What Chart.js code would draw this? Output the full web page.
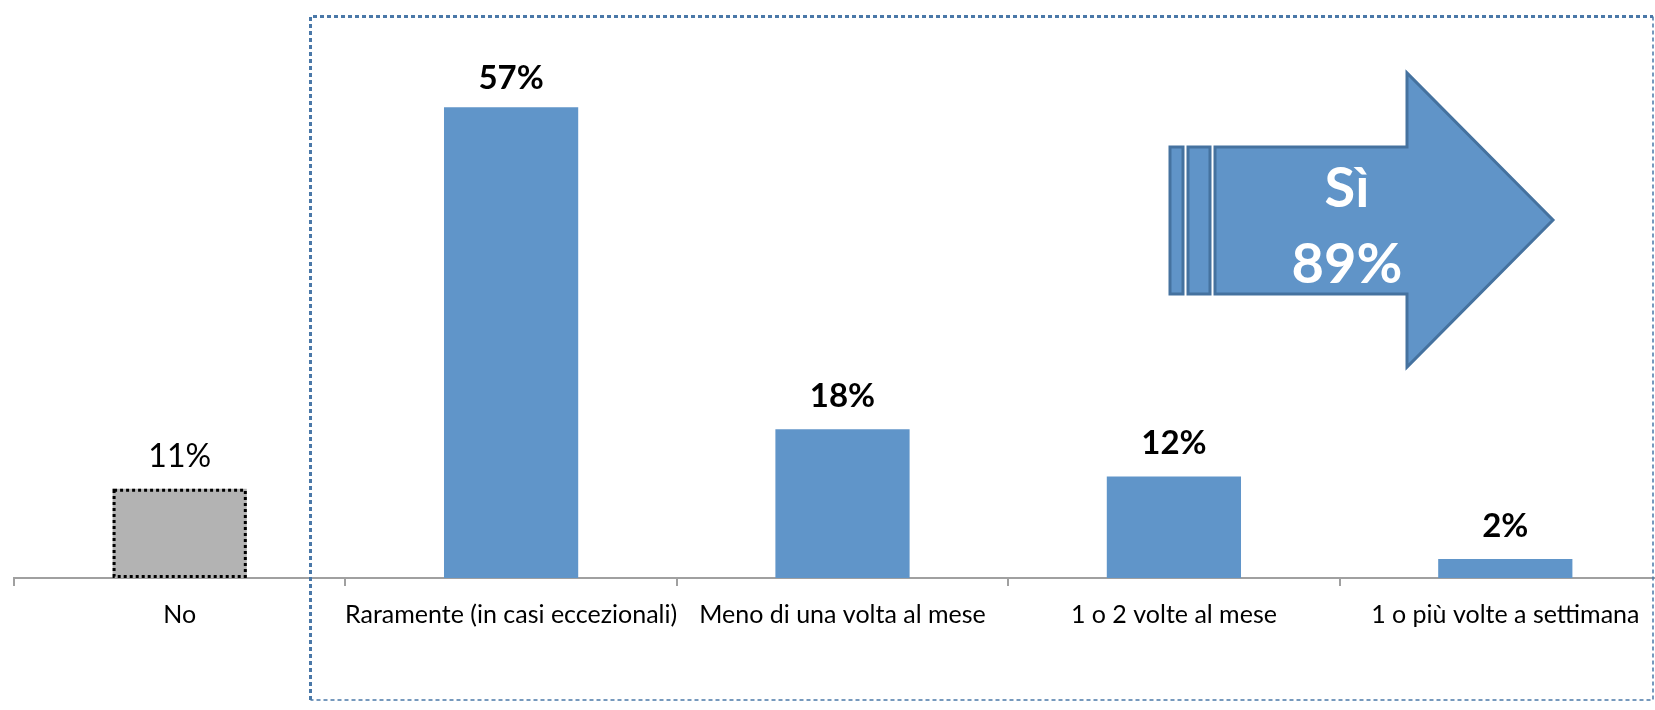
<!DOCTYPE html>
<html>
<head>
<meta charset="utf-8">
<script src="https://cdn.jsdelivr.net/npm/chart.js@4"></script>
<style>
    html, body { margin: 0; padding: 0; overflow: hidden; background: #fff; }
    #wrap { position: absolute; left: 0; top: 0; width: 1690px; height: 710px; }
</style>
</head>
<body>
<div id="wrap"><canvas id="chart"></canvas></div>
<script>
// Chart data
const categories = ['No', 'Raramente (in casi eccezionali)', 'Meno di una volta al mese', '1 o 2 volte al mese', '1 o più volte a settimana'];
const values = [10.8, 57, 18, 12.3, 2.3];
const valueLabels = ['11%', '57%', '18%', '12%', '2%'];
const boldLabels = [false, true, true, true, true];
const summaryLabel = 'Sì';
const summaryValue = '89%';

// Colors
const BLUE = '#6095C9';
const GRAY = '#B3B3B3';
const FONT = 'Lato, "Open Sans", sans-serif';

// Value labels above bars + dotted border on the "No" bar
const barDecor = {
    id: 'barDecor',
    afterDatasetsDraw(chart) {
        const ctx = chart.ctx;
        const meta = chart.getDatasetMeta(0);
        meta.data.forEach((bar, i) => {
            const p = bar.getProps(['x', 'y', 'base', 'width'], true);
            if (i === 0) {
                ctx.save();
                ctx.strokeStyle = '#000';
                ctx.lineWidth = 3;
                ctx.setLineDash([3, 3]);
                ctx.strokeRect(p.x - p.width / 2 + 1.5, p.y + 1.5, p.width - 3, p.base - p.y - 3);
                ctx.restore();
            }
            ctx.save();
            ctx.fillStyle = '#000';
            ctx.textAlign = 'center';
            ctx.textBaseline = 'alphabetic';
            ctx.font = boldLabels[i] ? 'bold 33px ' + FONT : '32px ' + FONT;
            // keep label inside the plot area
            const y = Math.max(p.y - 22, chart.chartArea.top + 89);
            ctx.fillText(valueLabels[i], p.x, y);
            ctx.restore();
        });
    }
};

// Dotted frame and "Sì" arrow
const summaryDecor = {
    id: 'summaryDecor',
    afterDraw(chart) {
        const ctx = chart.ctx;
        const xs = chart.scales.x;
        const left = Math.round((xs.getPixelForValue(0) + xs.getPixelForValue(1)) / 2 - 35) + 0.5;
        const top = 16.5, right = 1653, bottom = 700;

        ctx.save();
        ctx.strokeStyle = '#4A78A8';
        ctx.setLineDash([4, 3]);
        ctx.lineWidth = 3;
        ctx.beginPath();
        ctx.moveTo(left, bottom);
        ctx.lineTo(left, top);
        ctx.lineTo(right, top);
        ctx.stroke();
        ctx.lineWidth = 1.5;
        ctx.beginPath();
        ctx.moveTo(right, top);
        ctx.lineTo(right, bottom);
        ctx.lineTo(left, bottom);
        ctx.stroke();
        ctx.restore();

        // arrow
        ctx.save();
        ctx.fillStyle = '#6094C8';
        ctx.strokeStyle = '#45729F';
        ctx.lineWidth = 3;
        ctx.lineJoin = 'miter';
        [[1170, 13], [1188, 22]].forEach(([x, w]) => {
            ctx.fillRect(x, 147, w, 147);
            ctx.strokeRect(x, 147, w, 147);
        });
        ctx.beginPath();
        ctx.moveTo(1215, 147);
        ctx.lineTo(1407, 147);
        ctx.lineTo(1407, 73);
        ctx.lineTo(1553, 220);
        ctx.lineTo(1407, 367);
        ctx.lineTo(1407, 294);
        ctx.lineTo(1215, 294);
        ctx.closePath();
        ctx.fill();
        ctx.stroke();

        ctx.fillStyle = '#fff';
        ctx.textAlign = 'center';
        ctx.textBaseline = 'alphabetic';
        ctx.font = 'bold 56px ' + FONT;
        ctx.fillText(summaryLabel, 1347, 207);
        ctx.fillText(summaryValue, 1347, 283);
        ctx.restore();
    }
};

const ctx = document.getElementById('chart').getContext('2d');
new Chart(ctx, {
    type: 'bar',
    data: {
        labels: categories,
        datasets: [{
            data: values,
            backgroundColor: values.map((v, i) => i === 0 ? GRAY : BLUE),
            borderWidth: 0,
            categoryPercentage: 1,
            barPercentage: 0.405
        }]
    },
    options: {
        responsive: true,
        maintainAspectRatio: false,
        animation: false,
        layout: { padding: { left: 14, right: 19, top: 0, bottom: 66 } },
        plugins: {
            legend: { display: false },
            tooltip: { enabled: false }
        },
        scales: {
            y: { display: false, min: 0, max: 70 },
            x: {
                grid: {
                    offset: true,
                    drawOnChartArea: false,
                    drawTicks: true,
                    tickLength: 8,
                    tickColor: '#A0A0A0',
                    lineWidth: 2
                },
                border: { display: true, color: '#A0A0A0', width: 2 },
                ticks: {
                    color: '#000',
                    font: { family: FONT, size: 25 },
                    padding: 14,
                    maxRotation: 0,
                    minRotation: 0,
                    autoSkip: false
                }
            }
        }
    },
    plugins: [barDecor, summaryDecor]
});
</script>
</body>
</html>
